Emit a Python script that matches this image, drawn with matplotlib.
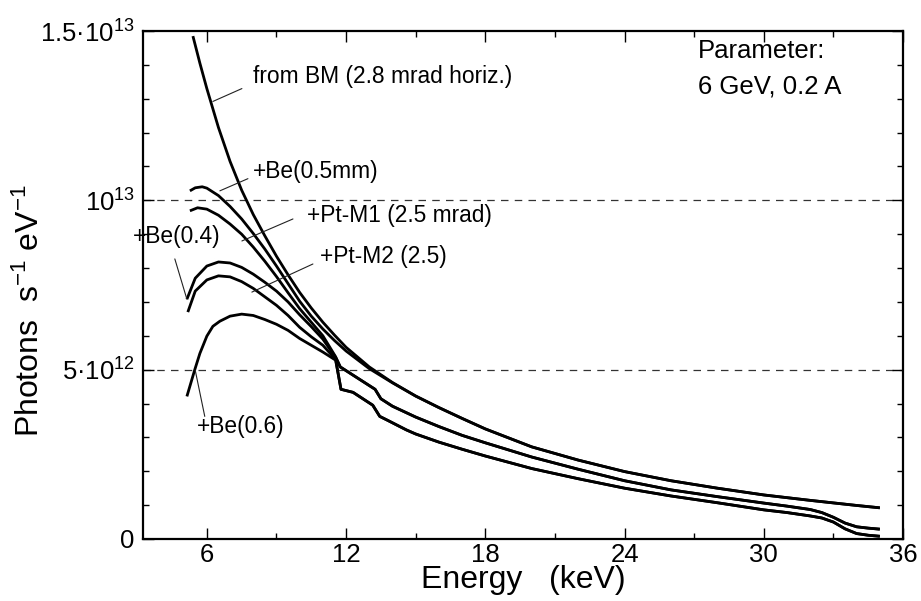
import matplotlib
matplotlib.use('Agg')
import matplotlib.pyplot as plt
from matplotlib.ticker import MultipleLocator, FixedLocator

plt.rcParams['font.family'] = ['Liberation Sans', 'DejaVu Sans']
plt.rcParams['mathtext.fontset'] = 'custom'
plt.rcParams['mathtext.rm'] = 'Liberation Sans'
plt.rcParams['mathtext.it'] = 'Liberation Sans:italic'
plt.rcParams['mathtext.bf'] = 'Liberation Sans:bold'

# Energy in keV, flux in units of 1e12 photons s^-1 eV^-1

# bending magnet, unfiltered
bm_e = [5.4, 5.7, 6.0, 6.5, 7.0, 7.5, 8.0, 8.5, 9.0, 9.5, 10.0, 10.5, 11.0, 11.5,
        12.0, 13.0, 14.0, 15.0, 16.0, 17.0, 18.0, 20.0, 22.0, 24.0, 26.0, 28.0,
        30.0, 32.0, 34.0, 35.0]
bm_flux = [14.85, 14.05, 13.3, 12.15, 11.15, 10.3, 9.58, 8.95, 8.35, 7.8, 7.28, 6.82,
           6.4, 6.02, 5.66, 5.08, 4.62, 4.22, 3.88, 3.56, 3.25, 2.72, 2.33, 1.99,
           1.72, 1.50, 1.30, 1.14, 0.99, 0.92]

# +Be(0.5mm), joins the BM curve above 14 keV
be05_e = [5.27, 5.5, 5.8, 6.0, 6.5, 7.0, 7.5, 8.0, 8.5, 9.0, 9.5, 10.0, 10.5, 11.0,
          11.5, 12.0, 13.0, 14.0]
be05_flux = [10.28, 10.37, 10.40, 10.36, 10.14, 9.82, 9.45, 9.02, 8.56, 8.06, 7.54,
             7.02, 6.58, 6.2, 5.86, 5.55, 5.03, 4.61]

# +Pt-M1 (2.5 mrad), below the Pt L3 edge
m1_e = [5.27, 5.6, 6.0, 6.5, 7.0, 7.5, 8.0, 8.5, 9.0, 9.5, 10.0, 10.5, 11.0, 11.55]
m1_flux = [9.69, 9.78, 9.74, 9.56, 9.3, 9.0, 8.62, 8.2, 7.75, 7.27, 6.8, 6.4, 6.0, 5.38]

# +Be(0.4), below the edge
be04_e = [5.14, 5.5, 6.0, 6.5, 7.0, 7.5, 8.0, 8.5, 9.0, 9.5, 10.0, 10.5, 11.0, 11.55]
be04_flux = [7.08, 7.7, 8.06, 8.18, 8.15, 8.02, 7.82, 7.58, 7.32, 7.0, 6.62, 6.27, 5.9, 5.36]

# one Pt mirror, above the edge (M1 and Be(0.4) coincide)
m1_tail_e = [11.75, 12.5, 13.25, 13.5, 14.0, 15.0, 16.0, 17.0, 18.0, 20.0, 22.0, 24.0,
             26.0, 28.0, 30.0, 31.0, 32.0, 32.5, 33.0, 33.5, 34.0, 34.5, 35.0]
m1_tail_flux = [5.08, 4.75, 4.42, 4.14, 3.92, 3.6, 3.32, 3.06, 2.84, 2.42, 2.06, 1.72,
                1.45, 1.25, 1.06, 0.97, 0.87, 0.78, 0.64, 0.47, 0.36, 0.32, 0.29]

# +Pt-M2 (2.5), below the edge
m2_e = [5.18, 5.5, 6.0, 6.5, 7.0, 7.5, 8.0, 8.5, 9.0, 9.5, 10.0, 10.5, 11.0, 11.55]
m2_flux = [6.70, 7.32, 7.65, 7.77, 7.74, 7.6, 7.4, 7.15, 6.9, 6.6, 6.25, 5.97, 5.72, 5.3]

# +Be(0.6), below the edge
be06_e = [5.14, 5.48, 5.7, 6.0, 6.26, 6.56, 7.0, 7.5, 8.0, 8.5, 9.0, 9.5, 10.0, 10.5,
          11.0, 11.55]
be06_flux = [4.21, 5.0, 5.48, 5.99, 6.28, 6.43, 6.58, 6.64, 6.6, 6.48, 6.34, 6.16, 5.92,
             5.72, 5.52, 5.28]

# two Pt mirrors, above the edge (M2 and Be(0.6) coincide)
m2_tail_e = [11.78, 12.3, 13.15, 13.45, 13.8, 14.6, 15.0, 16.0, 17.0, 18.0, 20.0, 22.0,
             24.0, 26.0, 28.0, 30.0, 31.0, 32.0, 32.5, 33.0, 33.5, 34.0, 34.5, 35.0]
m2_tail_flux = [4.42, 4.33, 3.95, 3.62, 3.5, 3.22, 3.1, 2.86, 2.65, 2.45, 2.08, 1.78,
                1.50, 1.27, 1.07, 0.86, 0.78, 0.68, 0.62, 0.5, 0.3, 0.16, 0.11, 0.08]

curves = [
    (bm_e, bm_flux),
    (be05_e + bm_e[17:], be05_flux + bm_flux[17:]),
    (m1_e + m1_tail_e, m1_flux + m1_tail_flux),
    (be04_e + m1_tail_e, be04_flux + m1_tail_flux),
    (m2_e + m2_tail_e, m2_flux + m2_tail_flux),
    (be06_e + m2_tail_e, be06_flux + m2_tail_flux),
]

fig = plt.figure(figsize=(9.21, 6.01), dpi=100)
ax = fig.add_axes([0.1553, 0.1032, 0.8252, 0.8452])

for e, f in curves:
    ax.plot(e, f, color='black', lw=2.0, solid_joinstyle='round', solid_capstyle='butt')

for level in (5, 10):
    ax.axhline(level, color='#333333', lw=0.9, ls=(0, (6, 5)), zorder=1)

ax.set_xlim(3.25, 36)
ax.set_ylim(0, 15)

ax.xaxis.set_major_locator(MultipleLocator(6))
ax.xaxis.set_minor_locator(MultipleLocator(3))
ax.yaxis.set_major_locator(FixedLocator([0, 5, 10, 15]))
ax.yaxis.set_minor_locator(MultipleLocator(1))
ax.set_yticklabels(['0', '5·10$^{12}$', '10$^{13}$', '1.5·10$^{13}$'])

ax.tick_params(which='both', direction='in', top=True, right=True, width=1.0)
ax.tick_params(which='major', length=8, labelsize=18.5)
ax.tick_params(axis='x', which='major', pad=3)
ax.tick_params(axis='y', which='major', pad=6)
ax.tick_params(which='minor', length=4)
for sp in ax.spines.values():
    sp.set_linewidth(1.6)

ax.set_xlabel('Energy   (keV)', fontsize=23, va='top')
ax.xaxis.set_label_coords(0.5, -0.052)
ax.set_ylabel('Photons  s$^{-1}$ eV$^{-1}$', fontsize=23, va='bottom')
ax.yaxis.set_label_coords(-0.128, 0.45)

# curve labels with leader lines
labels = [
    ('from BM (2.8 mrad horiz.)', (7.98, 13.66), (6.26, 12.92), (7.51, 13.3)),
    ('+Be(0.5mm)', (7.98, 10.85), (6.56, 10.28), (7.77, 10.64)),
    ('+Pt-M1 (2.5 mrad)', (10.31, 9.55), (7.51, 8.80), (9.71, 9.45)),
    ('+Pt-M2 (2.5)', (10.87, 8.33), (7.94, 7.29), (10.57, 8.12)),
    ('+Be(0.4)', (2.81, 8.92), (5.14, 7.08), (4.62, 8.27)),
    ('+Be(0.6)', (5.57, 3.32), (5.5, 4.98), (5.91, 3.62)),
]
for text, pos, tip, start in labels:
    ax.text(pos[0], pos[1], text, fontsize=16.4, ha='left', va='center')
    ax.annotate('', xy=tip, xytext=start,
                arrowprops=dict(arrowstyle='-', lw=0.8, color='#222222',
                                shrinkA=0, shrinkB=0))

ax.text(27.16, 14.4, 'Parameter:', fontsize=18.5, ha='left', va='center')
ax.text(27.16, 13.37, '6 GeV, 0.2 A', fontsize=18.5, ha='left', va='center')

fig.savefig('out.png', dpi=100)
